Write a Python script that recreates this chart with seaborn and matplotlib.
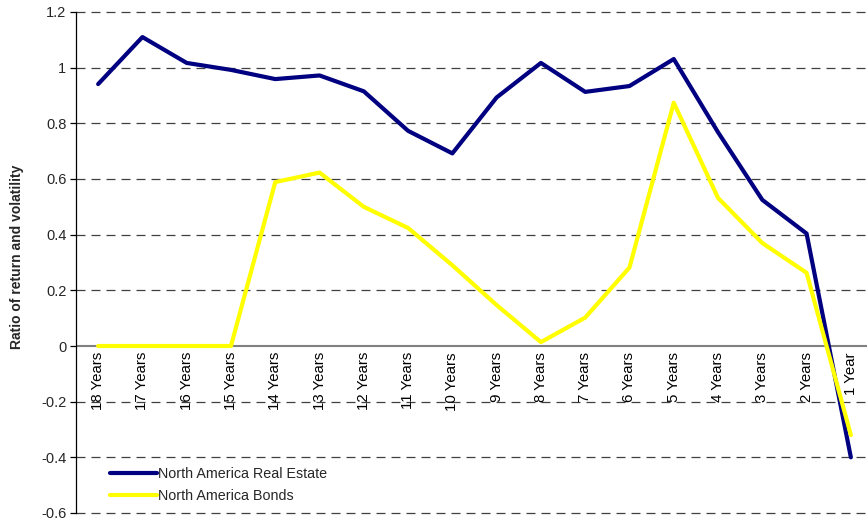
import matplotlib
matplotlib.use("Agg")
import matplotlib.pyplot as plt
import seaborn as sns
import pandas as pd
import numpy as np

horizons = ["18 Years", "17 Years", "16 Years", "15 Years", "14 Years", "13 Years",
            "12 Years", "11 Years", "10 Years", "9 Years", "8 Years", "7 Years",
            "6 Years", "5 Years", "4 Years", "3 Years", "2 Years", "1 Year"]
real_estate = [0.941, 1.110, 1.017, 0.992, 0.959, 0.972, 0.915, 0.773, 0.692, 0.893,
               1.017, 0.913, 0.934, 1.031, 0.768, 0.525, 0.404, -0.400]
bonds = [0.0, 0.0, 0.0, 0.0, 0.589, 0.623, 0.500, 0.424, 0.290, 0.147,
         0.014, 0.102, 0.282, 0.874, 0.532, 0.370, 0.263, -0.320]
series_names = ["North America Real Estate", "North America Bonds"]
y_ticks = [-0.6, -0.4, -0.2, 0, 0.2, 0.4, 0.6, 0.8, 1, 1.2]

df = pd.DataFrame({
    "Horizon": horizons * 2,
    "Ratio": real_estate + bonds,
    "Series": [series_names[0]] * len(horizons) + [series_names[1]] * len(horizons),
})

sns.set_style("white")
plt.rcParams["font.family"] = ["Liberation Sans", "DejaVu Sans"]

fig = plt.figure(figsize=(8.67, 5.22), dpi=100)
ax = fig.add_axes([76 / 867, 1 - 513 / 522, 797 / 867, 501 / 522])

palette = {series_names[0]: "#000080", series_names[1]: "#FFFF00"}
sns.lineplot(data=df, x="Horizon", y="Ratio", hue="Series", palette=palette,
             sort=False, linewidth=3.0, ax=ax, legend=True)

ax.set_xlim(-0.5, len(horizons) - 0.5)
ax.set_ylim(-0.6, 1.2)

# dashed grid at every tick except zero, which gets a solid baseline
for v in y_ticks:
    if v == 0:
        ax.axhline(0, color="#808080", linewidth=1.5, zorder=1)
    else:
        ax.axhline(v, color="black", linewidth=0.9, linestyle=(0, (7.2, 4.8)),
                   zorder=0, alpha=0.75, clip_on=False)

ax.set_yticks(y_ticks)
ax.set_yticklabels(["%g" % v for v in y_ticks], fontsize=10.5)
ax.tick_params(axis="y", which="both", direction="out", length=4, width=0.9,
               color="black", left=True, pad=3)

# category labels hang just below the zero line
ax.set_xticks([])
for i, lab in enumerate(horizons):
    ax.text(i, -0.022, lab, rotation=90, ha="center", va="top", fontsize=10.8,
            color="black")

for side in ["top", "right", "bottom"]:
    ax.spines[side].set_visible(False)
ax.spines["left"].set_color("black")
ax.spines["left"].set_linewidth(0.9)

ax.set_xlabel("")
ax.set_ylabel("")
fig.text(17 / 867, 1 - 257 / 522, "Ratio of return and volatility", rotation=90,
         ha="center", va="center", fontsize=10, fontweight="bold")

handles, labels = ax.get_legend_handles_labels()
ax.legend(handles, labels, loc="lower left", bbox_to_anchor=(0.035, 0.008),
          frameon=False, fontsize=10.3, handlelength=3.3, handletextpad=0.1,
          labelspacing=0.55, borderaxespad=0)

fig.savefig("out.png", dpi=100)
